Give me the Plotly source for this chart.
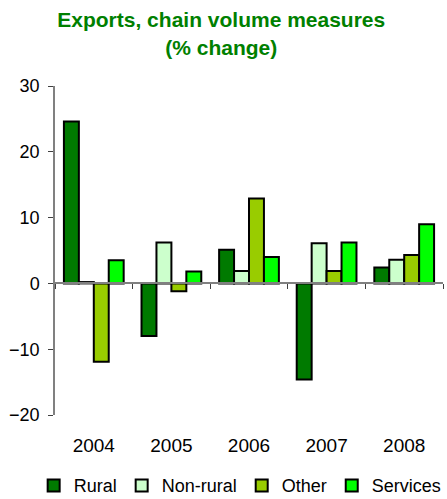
import plotly.graph_objects as go

years = ["2004", "2005", "2006", "2007", "2008"]
rural = [24.6, -8.0, 5.1, -14.6, 2.4]
non_rural = [0.2, 6.2, 1.9, 6.1, 3.6]
other = [-11.9, -1.2, 12.9, 1.9, 4.3]
services = [3.5, 1.8, 4.0, 6.2, 9.0]

series = [
    ("Rural", rural, "#007A00"),
    ("Non-rural", non_rural, "#CCFFCC"),
    ("Other", other, "#99CC00"),
    ("Services", services, "#00FF00"),
]

FONT = "Liberation Sans, Arial, sans-serif"

fig = go.Figure()
for name, vals, col in series:
    fig.add_trace(go.Bar(
        x=years, y=vals, name=name,
        marker=dict(color=col, line=dict(color="black", width=2)),
    ))

# invisible trace to carry the zero-line category axis
fig.add_trace(go.Scatter(x=years, y=[0] * len(years), xaxis="x2", yaxis="y",
                         mode="markers", marker=dict(opacity=0), showlegend=False,
                         hoverinfo="skip"))

fig.update_layout(
    width=447, height=499,
    margin=dict(l=55, r=4, t=86, b=84, autoexpand=False),
    paper_bgcolor="white", plot_bgcolor="white",
    font=dict(family=FONT, size=19, color="black"),
    title=dict(
        text="<b>Exports, chain volume measures<br>(% change)</b>",
        x=0.495, xref="container", xanchor="center",
        y=0.945, yref="container", yanchor="top",
        font=dict(family=FONT, size=21, color="#008000"),
    ),
    barmode="group", bargap=0.23, bargroupgap=0,
    showlegend=True,
    legend=dict(orientation="h", x=-0.055, xref="paper", xanchor="left",
                y=-0.215, yref="paper", yanchor="middle",
                font=dict(size=18), itemwidth=30, tracegroupgap=0),
    yaxis=dict(range=[-20, 30], dtick=10, showgrid=False, zeroline=False,
               showline=True, linecolor="#808080", linewidth=1.5,
               ticks="outside", ticklen=5, tickcolor="#404040",
               tickfont=dict(size=18), ticksuffix=" ", automargin=False),
    xaxis=dict(type="category", showline=False, showgrid=False, zeroline=False,
               ticks="", tickfont=dict(size=19), automargin=False,
               ticklabelstandoff=17),
    xaxis2=dict(type="category", overlaying="x", anchor="free", position=0.4,
                showline=True, linecolor="#808080", linewidth=1.5,
                showgrid=False, zeroline=False, showticklabels=False,
                ticks="outside", ticklen=5, tickcolor="#404040",
                tickson="boundaries", matches="x", automargin=False),
)

fig.write_html("out.html", config={"displayModeBar": False},
               post_script="document.body.style.margin='0px';")
